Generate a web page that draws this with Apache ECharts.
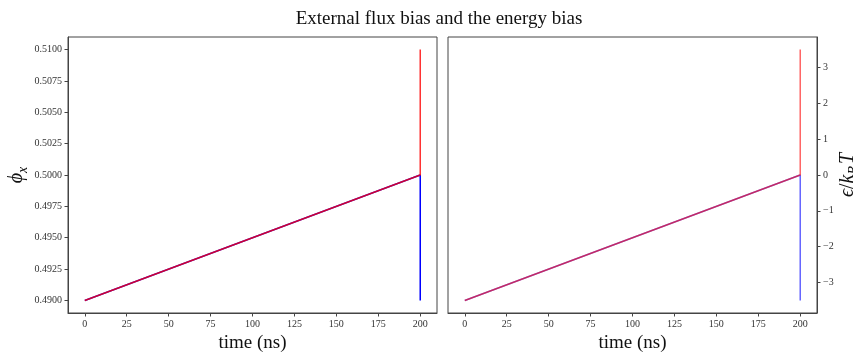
<!DOCTYPE html>
<html>
<head>
<meta charset="utf-8">
<script src="https://cdn.jsdelivr.net/npm/echarts@6/dist/echarts.min.js"></script>
<style>html,body{margin:0;padding:0;background:#fff}#c{width:853px;height:352px}</style>
</head>
<body>
<div id="c"></div>
<script>
// time points (ns)
const time = [0, 200, 200];
// external flux bias phi_x
const phiUp = [0.49, 0.50, 0.51];
const phiDown = [0.49, 0.50, 0.49];
// energy bias eps/kBT
const epsUp = [-3.5, 0, 3.5];
const epsDown = [-3.5, 0, -3.5];
// tick labels
const xTicks = [0, 25, 50, 75, 100, 125, 150, 175, 200];
const phiTicks = [0.49, 0.4925, 0.495, 0.4975, 0.50, 0.5025, 0.505, 0.5075, 0.51];
const epsTicks = [-3, -2, -1, 0, 1, 2, 3];

const pairs = (xs, ys) => xs.map((x, i) => [x, ys[i]]);
const FONT = '"Liberation Serif", "DejaVu Serif", serif';
const labelStyle = {fontFamily: FONT, fontSize: 10, color: '#333'};
const axisLine = {show: true, onZero: false, lineStyle: {color: '#444', width: 1}};

function xAxis(gi) {
  return {
    type: 'value', gridIndex: gi, min: -10, max: 210,
    name: 'time (ns)', nameLocation: 'middle', nameGap: 20,
    nameTextStyle: {fontFamily: FONT, fontSize: 19, color: '#111'},
    axisLine: axisLine,
    splitLine: {show: false},
    axisTick: {show: true, length: 3.5, lineStyle: {color: '#444'}, customValues: xTicks},
    axisLabel: Object.assign({margin: 6, customValues: xTicks}, labelStyle)
  };
}

const option = {
  animation: false,
  backgroundColor: '#fff',
  title: {
    text: 'External flux bias and the energy bias',
    left: 434, top: 5, textAlign: 'center',
    textStyle: {fontFamily: FONT, fontSize: 19, fontWeight: 'normal', color: '#111'}
  },
  grid: [
    {left: 68, top: 37, width: 369, height: 276, show: true, borderColor: '#444', borderWidth: 1, containLabel: false, outerBoundsMode: 'none'},
    {left: 448, top: 37, width: 369, height: 276, show: true, borderColor: '#444', borderWidth: 1, containLabel: false, outerBoundsMode: 'none'}
  ],
  xAxis: [xAxis(0), xAxis(1)],
  yAxis: [
    {
      type: 'value', gridIndex: 0, min: 0.489, max: 0.511,
      name: '{i|ϕ}{s|x}', nameLocation: 'middle', nameGap: 35, nameRotate: 90,
      nameTextStyle: {
        fontFamily: FONT, color: '#111',
        rich: {
          i: {fontFamily: FONT, fontSize: 20, lineHeight: 28, fontStyle: 'italic', color: '#111'},
          s: {fontFamily: FONT, fontSize: 14, lineHeight: 28, fontStyle: 'italic', color: '#111', verticalAlign: 'bottom', padding: [6, 0, 0, 0]}
        }
      },
      axisLine: axisLine, splitLine: {show: false},
      axisTick: {show: true, length: 3.5, lineStyle: {color: '#444'}, customValues: phiTicks},
      axisLabel: Object.assign({margin: 6, customValues: phiTicks, formatter: v => v.toFixed(4)}, labelStyle)
    },
    {
      type: 'value', gridIndex: 1, position: 'right', min: -3.85, max: 3.85,
      name: '{i|ϵ}{n|/}{i|k}{s|B}{i|T}', nameLocation: 'middle', nameGap: 13, nameRotate: 90,
      nameTextStyle: {
        fontFamily: FONT, color: '#111',
        rich: {
          i: {fontFamily: FONT, fontSize: 20, lineHeight: 28, fontStyle: 'italic', color: '#111'},
          n: {fontFamily: FONT, fontSize: 20, lineHeight: 28, color: '#111'},
          s: {fontFamily: FONT, fontSize: 14, lineHeight: 28, fontStyle: 'italic', color: '#111', verticalAlign: 'bottom', padding: [6, 2, 0, 0]}
        }
      },
      axisLine: axisLine, splitLine: {show: false},
      axisTick: {show: true, length: 3.5, lineStyle: {color: '#444'}, customValues: epsTicks},
      axisLabel: Object.assign({margin: 6, customValues: epsTicks, formatter: v => v < 0 ? '\u2212' + Math.abs(v) : String(v)}, labelStyle)
    }
  ],
  series: [
    {type: 'line', xAxisIndex: 0, yAxisIndex: 0, data: pairs(time, phiDown), symbol: 'none',
     lineStyle: {color: '#0000ff', width: 1.5}, z: 2},
    {type: 'line', xAxisIndex: 0, yAxisIndex: 0, data: pairs(time, phiUp), symbol: 'none',
     lineStyle: {color: '#ff0000', width: 1.5, opacity: 0.8}, z: 3},
    {type: 'line', xAxisIndex: 1, yAxisIndex: 1, data: pairs(time, epsDown), symbol: 'none',
     lineStyle: {color: '#0000ff', width: 1.5, opacity: 0.6}, z: 2},
    {type: 'line', xAxisIndex: 1, yAxisIndex: 1, data: pairs(time, epsUp), symbol: 'none',
     lineStyle: {color: '#ff0000', width: 1.5, opacity: 0.6}, z: 3}
  ]
};
echarts.init(document.getElementById('c'), null, {renderer: 'canvas'}).setOption(option);
</script>
</body>
</html>
